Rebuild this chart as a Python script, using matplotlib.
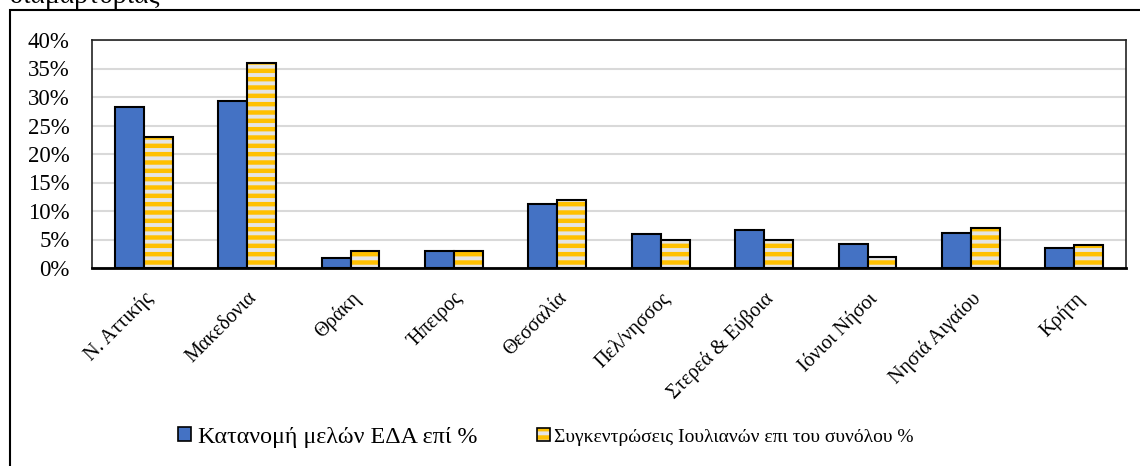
import matplotlib
matplotlib.use("Agg")
import matplotlib.pyplot as plt
from matplotlib.patches import Rectangle, Patch
from matplotlib.legend_handler import HandlerTuple
import numpy as np

regions = ['N. Αττικής', 'Μακεδονια', 'Θράκη', 'Ήπειρος', 'Θεσσαλία',
           'Πελ/νησσος', 'Στερεά & Εύβοια', 'Ιόνιοι Νήσοι', 'Νησιά Αιγαίου', 'Κρήτη']
members_pct = [28.2, 29.3, 1.8, 3.0, 11.2, 6.0, 6.7, 4.2, 6.1, 3.5]
gatherings_pct = [23, 36, 3, 3, 12, 5, 5, 2, 7, 4]
series_names = ['Κατανομή μελών ΕΔΑ επί %',
                'Συγκεντρώσεις Ιουλιανών επι του συνόλου %']
yticks = [0, 5, 10, 15, 20, 25, 30, 35, 40]

plt.rcParams['font.family'] = ['Liberation Serif', 'DejaVu Serif']
plt.rcParams['hatch.linewidth'] = 3.2

blue = '#4472C4'
yellow = '#FFC000'
stripe_bg = '#E4E4E4'

fig = plt.figure(figsize=(11.4, 4.66), dpi=100)
ax = fig.add_axes([92 / 1140, 1 - 268 / 466, (1126 - 92) / 1140, (268 - 40) / 466])

x = np.arange(len(regions))
w = 0.28
ax.bar(x - w / 2, members_pct, w, color=blue, edgecolor='black', linewidth=1.5, zorder=3)
ax.bar(x + w / 2, gatherings_pct, w, color=stripe_bg, edgecolor=yellow, hatch='--',
       linewidth=0, zorder=3)
ax.bar(x + w / 2, gatherings_pct, w, color='none', edgecolor='black', linewidth=1.5, zorder=4)

ax.set_xlim(-0.5, len(regions) - 0.5)
ax.set_ylim(0, 40)
ax.set_yticks(yticks)
ax.set_yticklabels([f'{v}%' for v in yticks], fontsize=16.5)
ax.set_xticks(x)
ax.set_xticklabels(regions, rotation=45, ha='right', va='top', rotation_mode='anchor',
                   fontsize=14.5)
ax.tick_params(length=0)
ax.tick_params(axis='x', pad=15)
ax.tick_params(axis='y', pad=16)
ax.grid(axis='y', color='#D9D9D9', linewidth=1.5, zorder=0)
ax.set_axisbelow(True)
for side in ['top', 'right', 'left']:
    ax.spines[side].set_color('#222222')
    ax.spines[side].set_linewidth(1.2)
ax.spines['bottom'].set_linewidth(2)
ax.spines['bottom'].set_zorder(5)

# legend: two separate entries, the second one is set tighter in the reference
leg_y = 1 - 437 / 466
h_members = Patch(facecolor=blue, edgecolor='black', linewidth=1.2)
h_gather = (Patch(facecolor=stripe_bg, edgecolor=yellow, hatch='--', linewidth=0),
            Patch(facecolor='none', edgecolor='black', linewidth=1.2))
fig.legend([h_members], series_names[:1], loc='center left',
           bbox_to_anchor=(178 / 1140, leg_y), frameon=False, fontsize=17.3,
           handlelength=0.55, handleheight=0.55, handletextpad=0.3,
           borderpad=0, borderaxespad=0)
fig.legend([h_gather], series_names[1:], loc='center left',
           bbox_to_anchor=(537 / 1140, leg_y), frameon=False, fontsize=14,
           handler_map={tuple: HandlerTuple(ndivide=1)},
           handlelength=0.65, handleheight=0.65, handletextpad=0.25,
           borderpad=0, borderaxespad=0)

fig.patches.append(Rectangle((10 / 1140, -0.1), 1.5, 1.1 - 10 / 466,
                             transform=fig.transFigure, fill=False, edgecolor='black',
                             linewidth=1.5))
fig.text(10 / 1140, 1 - 3 / 466, 'διαμαρτυρίας', fontsize=20, va='baseline', ha='left')

fig.savefig('out.png', dpi=100)
